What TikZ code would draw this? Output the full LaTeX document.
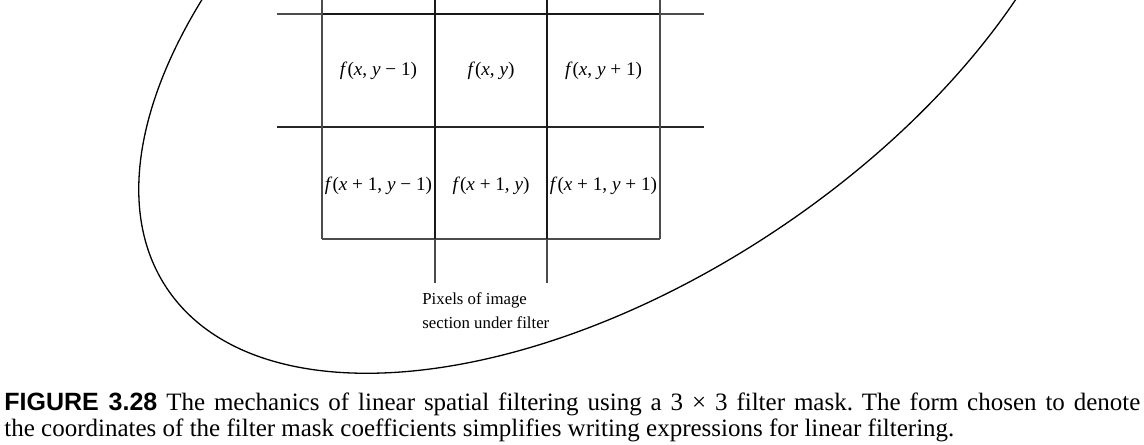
\documentclass[tikz,border=0pt]{standalone}
\usepackage{fontspec}
\setmainfont{Liberation Serif}
\newfontfamily\capsans{Liberation Sans}
\frenchspacing
\begin{document}
\begin{tikzpicture}[x=0.5pt,y=-0.5pt,
  heavy/.style={line width=1.05pt, black!90},
  light/.style={line width=0.65pt, black!70},
  medium/.style={line width=0.8pt, black!85},
  outline/.style={line width=0.65pt, black},
  cell/.style={inner sep=0pt, font=\fontsize{9.6}{11}\selectfont},
  note/.style={inner sep=0pt, align=left, font=\fontsize{8.4}{12}\selectfont},
  captxt/.style={inner sep=0pt, anchor=base west, font=\fontsize{12.5}{13}\selectfont}]
\useasboundingbox (0,0) rectangle (1144,444);
% elliptical outline of the image
\coordinate (ec) at (616,-11.5);
\begin{scope}
\clip (0,0) rectangle (1144,444);
\draw[outline, rotate around={33.72:(ec)}] (ec) ellipse [x radius=540, y radius=290];
\end{scope}
% grid coordinates
\coordinate (t0) at (277,14);  \coordinate (t1) at (322,14);
\coordinate (t4) at (660,14);  \coordinate (t5) at (704,14);
\coordinate (m0) at (277,127); \coordinate (m5) at (704,127);
\coordinate (b1) at (322,239); \coordinate (b2) at (435,239);
\coordinate (b3) at (547,239); \coordinate (b4) at (660,239);
\coordinate (u1) at (322,-10); \coordinate (u2) at (435,-10);
\coordinate (u3) at (547,-10); \coordinate (u4) at (660,-10);
\coordinate (p2) at (435,283); \coordinate (p3) at (547,283);
% horizontal lines
\draw[light] (t0) -- (t1);
\draw[heavy] (t1) -- (t4);
\draw[light] (t4) -- (t5);
\draw[medium] (m0) -- (m5);
\draw[light] (b1) -- (b4);
% vertical lines
\draw[light] (u1) -- (b1);
\draw[light] (u4) -- (b4);
\draw[heavy] (u2) -- (b2);
\draw[heavy] (u3) -- (b3);
% cell labels
\node[cell] (c11) at (378.5,71) {\textit{f}(\textit{x}, \textit{y} − 1)};
\node[cell] (c12) at (491,71) {\textit{f}(\textit{x}, \textit{y})};
\node[cell] (c13) at (603.5,71) {\textit{f}(\textit{x}, \textit{y} + 1)};
\node[cell] (c21) at (378.5,186) {\textit{f}(\textit{x} + 1, \textit{y} − 1)};
\node[cell] (c22) at (491,186) {\textit{f}(\textit{x} + 1, \textit{y})};
\node[cell] (c23) at (603.5,186) {\textit{f}(\textit{x} + 1, \textit{y} + 1)};
% pointer label
\node[note, anchor=north west] (lab) at (422,292) {Pixels of image\\section under filter};
\draw[light] (b2) -- (p2);
\draw[light] (b3) -- (p3);
% caption
\node[captxt] (cap1) at (4,410) {\makebox[568pt][s]{{\capsans\bfseries FIGURE 3.28} The mechanics of linear spatial filtering using a 3 × 3 filter mask. The form chosen to denote}};
\node[captxt] (cap2) at (4,436) {the coordinates of the filter mask coefficients simplifies writing expressions for linear filtering.};
\end{tikzpicture}
\end{document}
